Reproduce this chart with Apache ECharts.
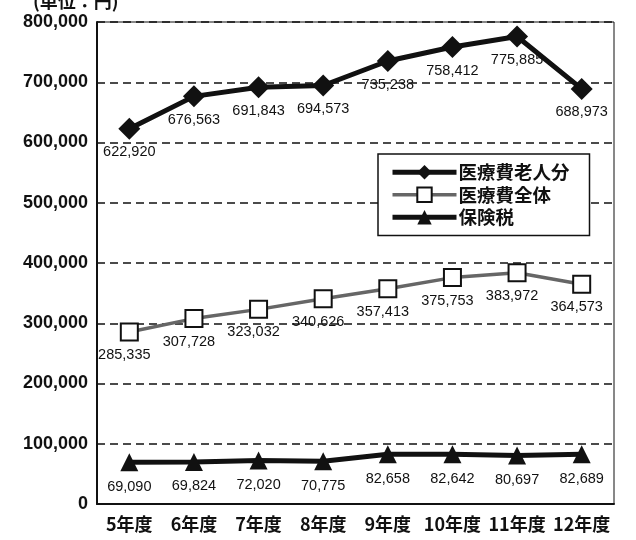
<!DOCTYPE html>
<html><head><meta charset="utf-8">
<script src="https://cdn.jsdelivr.net/npm/echarts@6/dist/echarts.min.js"></script>
<style>html,body{margin:0;padding:0;background:#fff}#c{width:636px;height:540px}</style>
</head><body><div id="c"></div>
<script>
const categories = ['5年度','6年度','7年度','8年度','9年度','10年度','11年度','12年度'];
const elderly = [622920, 676563, 691843, 694573, 735238, 758412, 775885, 688973];
const total = [285335, 307728, 323032, 340626, 357413, 375753, 383972, 364573];
const tax = [69090, 69824, 72020, 70775, 82658, 82642, 80697, 82689];
const yTicks = [0, 100000, 200000, 300000, 400000, 500000, 600000, 700000, 800000];
const names = ['医療費老人分', '医療費全体', '保険税'];

const fmt = v => v.toLocaleString('en-US');
const chart = echarts.init(document.getElementById('c'));
const labelBase = {show: true, position: 'bottom', color: '#111', fontSize: 14.5, fontFamily: 'Liberation Sans, Arial, sans-serif', formatter: p => fmt(p.value)};
chart.setOption({
  animation: false,
  title: {text: '(単位：円)', left: 28, top: -13, textStyle: {fontSize: 18, fontWeight: 'bold', color: '#111', fontFamily: 'Noto Sans CJK JP'}},
  grid: {left: 97, right: 22, top: 22, bottom: 36, show: true, borderColor: '#111', borderWidth: 1},
  legend: {
    orient: 'vertical', left: 378, top: 154, width: 210,
    backgroundColor: '#fff', borderColor: '#111', borderWidth: 1.5,
    padding: [9, 20, 9, 12], itemGap: 4, itemWidth: 64, itemHeight: 18,
    textStyle: {fontSize: 18.5, color: '#111', fontFamily: 'Noto Sans CJK JP', fontWeight: 'bold', padding: [0, 0, 0, -3]},
    data: [
      {name: names[0], lineStyle: {width: 5, color: '#111'}},
      {name: names[1], lineStyle: {width: 3.5, color: '#666'}},
      {name: names[2], lineStyle: {width: 5, color: '#111'}}
    ]
  },
  xAxis: {
    type: 'category', data: categories, boundaryGap: true,
    axisLine: {lineStyle: {color: '#111', width: 2}},
    axisTick: {show: false},
    axisLabel: {interval: 0, fontSize: 18, fontWeight: 'bold', color: '#111', margin: 11, fontFamily: 'Noto Sans CJK JP'}
  },
  yAxis: {
    type: 'value', min: 0, max: 800000, interval: 100000,
    axisLine: {show: true, lineStyle: {color: '#111', width: 2}},
    axisTick: {show: false},
    axisLabel: {fontSize: 18, fontWeight: 'bold', color: '#111', margin: 9, fontFamily: 'Liberation Sans, Arial, sans-serif',
      formatter: v => yTicks.includes(v) ? fmt(v) : ''},
    splitLine: {show: true, lineStyle: {color: '#111', width: 1.5, type: [8, 5]}}
  },
  series: [
    {name: names[0], type: 'line', data: elderly, symbol: 'diamond', symbolSize: 22,
      itemStyle: {color: '#111'}, lineStyle: {color: '#111', width: 5},
      label: Object.assign({}, labelBase, {distance: 5})},
    {name: names[1], type: 'line', data: total, symbol: 'rect', symbolSize: 17,
      itemStyle: {color: '#fff', borderColor: '#111', borderWidth: 2}, lineStyle: {color: '#666', width: 3.5},
      label: Object.assign({}, labelBase, {distance: 6, offset: [-5, 0]})},
    {name: names[2], type: 'line', data: tax, symbol: 'triangle', symbolSize: 18,
      itemStyle: {color: '#111'}, lineStyle: {color: '#111', width: 5},
      label: Object.assign({}, labelBase, {distance: 8})}
  ]
});
</script></body></html>
